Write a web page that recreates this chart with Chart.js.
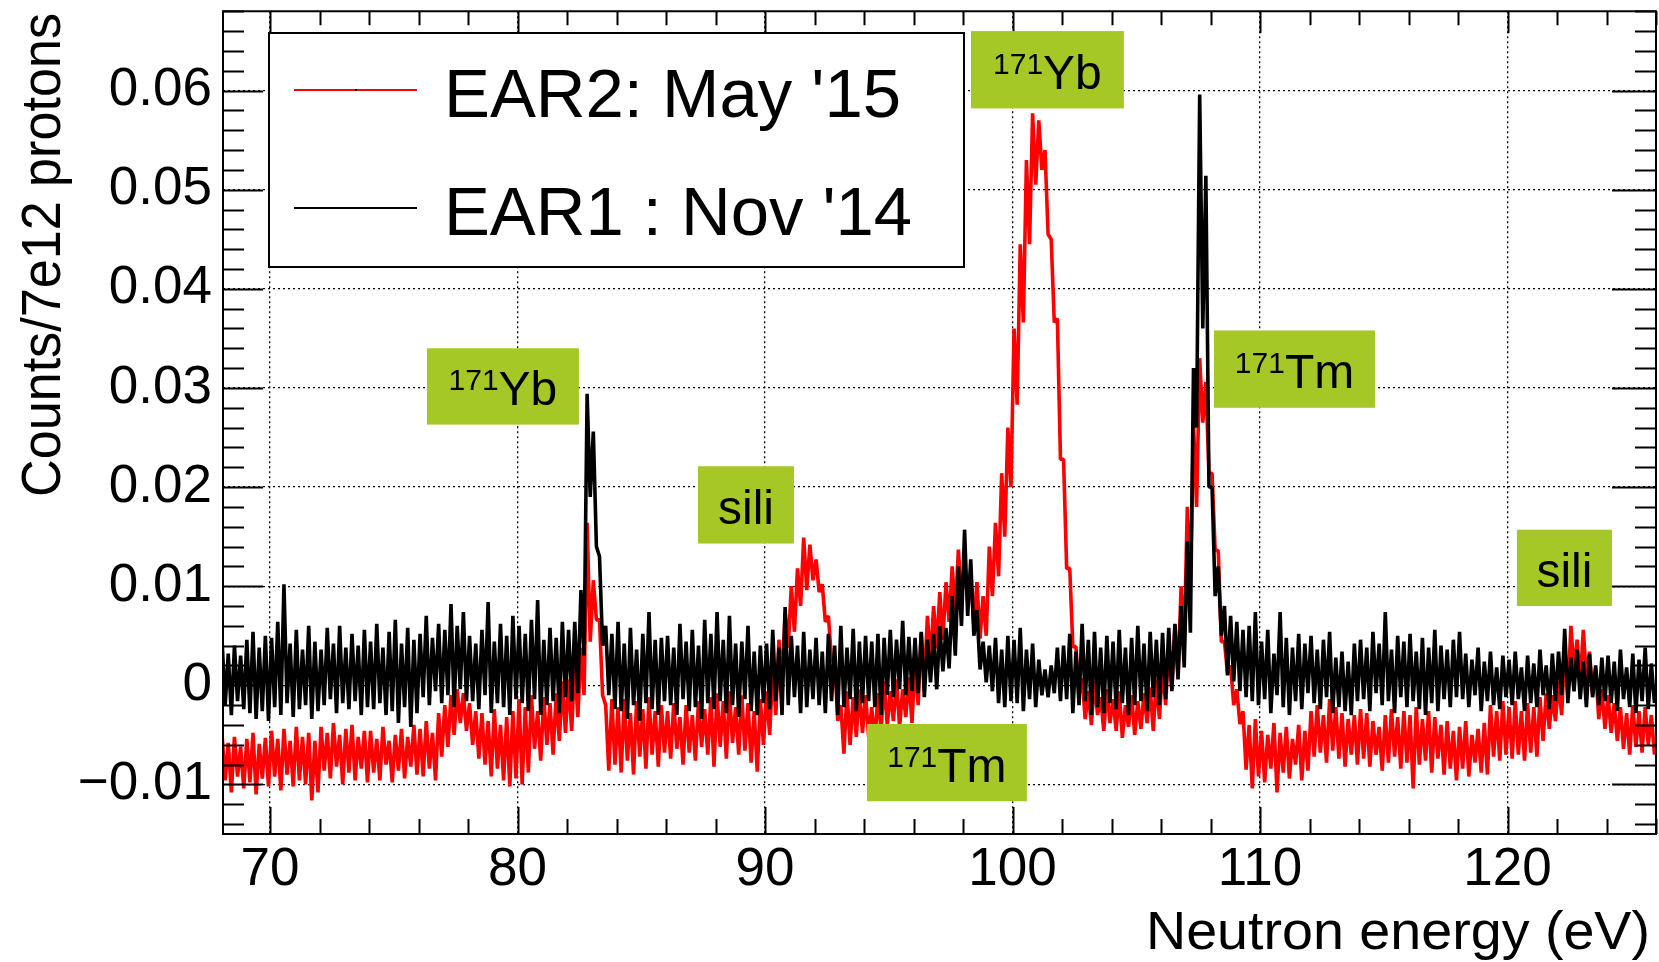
<!DOCTYPE html>
<html>
<head>
<meta charset="utf-8">
<title>EAR1 / EAR2 neutron energy spectrum</title>
<script src="https://cdn.jsdelivr.net/npm/chart.js@4.4.1/dist/chart.umd.min.js"></script>
<style>
  html, body { margin: 0; padding: 0; background: #fff; overflow: hidden; }
  canvas { display: block; }
</style>
</head>
<body>
<canvas id="spectrum" width="1659" height="962"></canvas>
<script>
// spectrum in 0.25 eV bins from 68 eV
// each bin keeps the top and bottom of the noisy trace, in units of 1e-3 counts
const binStart = 68;
const binWidth = 0.25;

// EAR1 : Nov '14 (black)
const ear1Hi = [
  4.5, 3.2, 4.0, 3.0, 4.6, 5.4, 3.8, 5.0,      // 68
  4.8, 6.4, 10.2, 4.2, 5.6, 3.6, 6.0, 4.4,     // 70
  3.6, 5.8, 4.2, 6.0, 3.8, 5.2, 4.0, 5.6,      // 72
  4.4, 6.2, 3.8, 5.4, 6.6, 4.2, 5.8, 4.6,      // 74
  5.2, 7.0, 4.8, 6.2, 5.6, 8.2, 6.0, 7.4,      // 76
  5.0, 4.2, 5.6, 8.4, 4.4, 6.2, 5.0, 7.0,      // 78
  6.0, 5.2, 6.6, 8.6, 4.6, 5.8, 4.8, 6.4,      // 80
  5.6, 6.4, 9.6, 29.4, 25.6, 13.0, 6.0, 5.2,   // 82
  6.4, 4.2, 5.8, 3.6, 5.2, 7.4, 4.6, 4.8,      // 84
  5.0, 3.8, 6.2, 4.4, 5.6, 4.0, 6.6, 5.2,      // 86
  7.4, 4.6, 7.0, 4.2, 4.4, 6.0, 3.4, 4.0,      // 88
  4.2, 5.6, 3.8, 7.9, 5.0, 4.0, 5.4, 3.6,      // 90
  4.8, 3.4, 5.2, 4.0, 6.0, 3.8, 5.7, 4.4,      // 92
  5.0, 4.4, 5.2, 4.8, 5.6, 4.6, 6.5, 4.9,      // 94
  4.8, 5.4, 4.6, 5.2, 6.0, 5.8, 9.0, 12.0,     // 96
  15.7, 12.7, 7.6, 4.4, 4.0, 4.8, 3.6, 5.0,    // 98
  4.6, 5.8, 3.6, 4.2, 2.6, 1.6, 2.0, 3.8,      // 100
  4.0, 5.2, 3.4, 6.2, 4.6, 5.4, 3.8, 5.0,      // 102
  4.4, 5.6, 3.8, 4.8, 6.0, 4.2, 5.4, 4.6,      // 104
  5.3, 5.8, 6.2, 8.0, 14.5, 32.0, 59.6, 51.4,  // 106
  20.0, 12.0, 8.0, 7.0, 6.4, 5.6, 6.0, 7.4,    // 108
  4.4, 5.6, 3.2, 7.4, 4.8, 3.8, 5.2, 4.2,      // 110
  5.0, 3.6, 4.6, 5.4, 2.8, 3.4, 2.4, 4.2,      // 112
  4.6, 3.8, 5.4, 4.2, 7.4, 3.6, 5.0, 4.4,      // 114
  5.2, 3.4, 4.8, 3.8, 5.6, 4.0, 3.6, 4.6,      // 116
  5.4, 3.2, 2.6, 3.8, 2.4, 3.4, 1.8, 3.0,      // 118
  2.6, 3.4, 1.8, 3.0, 2.2, 3.6, 2.0, 3.2,      // 120
  3.4, 5.7, 2.8, 3.6, 2.4, 3.2, 2.0, 2.8,      // 122
  3.0, 2.4, 3.6, 1.8, 3.2, 2.6, 3.8, 2.2       // 124
];
const ear1Lo = [
  -2.0, -3.0, -1.6, -2.4, -2.8, -3.4, -2.6, -3.6,
  -2.2, -3.0, -1.8, -3.2, -2.4, -2.0, -3.4, -2.6,
  -2.0, -1.4, -2.8, -1.8, -2.4, -1.6, -3.0, -2.2,
  -2.4, -1.8, -3.0, -2.6, -3.8, -2.2, -4.2, -2.8,
  -1.2, -2.0, -0.6, -1.8, -1.0, -2.2, -0.4, -1.6,
  -1.6, -2.4, -1.0, -2.8, -1.8, -2.2, -3.0, -1.4,
  -1.8, -2.6, -1.4, -3.0, -2.0, -1.6, -2.8, -1.2,
  -1.6, -0.8, 3.0, 19.0, 14.0, 4.0, -1.0, -2.4,
  -2.6, -3.4, -2.0, -3.6, -1.8, -2.4, -3.0, -1.6,
  -2.0, -3.0, -1.4, -2.6, -2.2, -3.4, -1.8, -2.4,
  -1.6, -2.8, -2.0, -3.2, -1.4, -2.6, -3.0, -1.8,
  -2.4, -1.6, -3.0, -2.0, -1.2, -2.8, -2.2, -1.4,
  -2.0, -2.8, -1.6, -3.0, -2.2, -1.4, -2.6, -1.8,
  -1.6, -2.2, -3.0, -1.0, -1.2, -0.4, -1.0, -0.6,
  -0.8, -1.2, 0.3, -0.4, 1.4, 1.7, 3.0, 6.0,
  7.0, 5.0, 1.6, 0.3, -0.6, -1.8, -2.2, -1.6,
  -1.8, -2.6, -1.4, -2.2, -1.0, -1.2, -0.8, -1.6,
  -1.4, -2.8, -2.0, -1.6, -3.0, -2.2, -2.8, -1.8,
  -2.4, -1.8, -3.0, -2.0, -1.6, -2.6, -1.2, -2.0,
  -1.4, -0.6, 0.6, 1.8, 5.3, 26.0, 36.0, 20.0,
  9.0, 5.0, 1.0, 0.4, -0.6, -1.2, -1.6, -2.0,
  -1.4, -2.8, -1.0, -2.2, -3.0, -1.6, -2.4, -0.8,
  -1.8, -2.4, -1.2, -2.8, -2.2, -2.6, -3.0, -1.6,
  -1.4, -2.6, -0.8, -2.0, -1.6, -2.8, -1.2, -2.2,
  -1.6, -2.4, -3.0, -1.8, -2.6, -1.4, -2.2, -1.2,
  -1.4, -2.2, -1.0, -2.6, -1.6, -2.0, -2.4, -1.2,
  -2.0, -1.4, -2.6, -1.8, -2.2, -1.0, -2.4, -1.6,
  -1.0, -1.8, -0.6, -1.4, -2.2, -1.2, -2.0, -1.6,
  -1.8, -2.6, -1.4, -2.2, -2.8, -1.6, -2.4, -1.8
];

// EAR2: May '15 (red)
const ear2Hi = [
  -5.0, -5.8, -5.2, -6.2, -5.4, -4.8, -5.9, -5.3,   // 68
  -4.6, -5.4, -4.4, -5.6, -4.2, -5.2, -4.8, -5.6,   // 70
  -4.2, -4.8, -3.8, -5.0, -4.4, -4.0, -5.2, -4.6,   // 72
  -4.6, -5.4, -4.2, -5.6, -5.0, -4.4, -5.2, -4.0,   // 74
  -4.4, -3.6, -4.8, -2.8, -2.0, -1.0, -0.4, -0.8,   // 76
  -1.8, -2.6, -2.8, -3.6, -2.4, -4.0, -3.2, -2.6,   // 78
  -1.4, -2.2, -1.0, -2.6, -1.2, -1.8, -0.8, 0.4,    // 80
  0.6, 2.2, 3.8, 16.4, 10.6, 6.6, -2.0, -1.4,       // 82
  -2.2, -1.4, -2.8, -1.6, -2.4, -1.2, -2.6, -2.0,   // 84
  -2.6, -1.8, -3.2, -2.0, -3.0, -1.6, -2.4, -1.2,   // 86
  -0.8, -1.6, -0.6, -2.2, -1.0, -1.8, -2.6, -1.4,   // 88
  -0.6, 1.6, 4.6, 7.4, 10.0, 11.8, 14.9, 14.2,      // 90
  12.7, 10.2, 7.0, 2.8, -2.0, -0.6, -1.2, -0.4,     // 92
  -1.0, -2.2, -0.8, 0.4, -0.6, 0.6, -0.4, 0.8,      // 94
  2.4, 5.3, 7.0, 8.0, 9.4, 10.4, 12.0, 13.7,        // 96
  12.7, 11.0, 10.4, 9.0, 14.0, 16.4, 21.4, 26.0,    // 98
  36.0, 44.5, 53.0, 57.7, 57.0, 54.0, 45.0, 37.0,   // 100
  22.8, 11.8, 3.9, 0.7, -0.6, 0.4, -1.2, -0.4,      // 102
  -1.4, -0.6, -2.0, -1.0, -1.6, -0.8, -0.2, 0.6,    // 104
  2.0, 4.0, 6.0, 10.0, 18.0, 26.5, 33.0, 30.6,      // 106
  21.4, 13.6, 4.4, 2.0, -0.4, -2.6, -4.0, -3.4,     // 108
  -4.6, -5.0, -3.8, -4.8, -4.2, -5.4, -4.0, -4.6,   // 110
  -2.6, -2.0, -3.0, -1.4, -2.2, -2.8, -3.4, -3.0,   // 112
  -2.4, -2.8, -3.6, -4.2, -3.0, -2.4, -3.2, -2.6,   // 114
  -3.0, -2.2, -3.4, -2.6, -3.2, -4.0, -3.6, -4.6,   // 116
  -4.2, -3.6, -5.0, -4.4, -3.8, -2.0, -2.6, -1.6,   // 118
  -2.2, -1.6, -2.6, -1.8, -2.2, -1.2, -0.8, -1.0,   // 120
  0.4, 3.8, 6.0, 4.6, 5.6, 3.4, 1.6, -0.4,          // 122
  -1.0, -1.8, -2.2, -2.8, -2.0, -2.6, -2.2, -3.0    // 124
];
const ear2Lo = [
  -9.6, -10.8, -9.2, -10.4, -9.8, -11.0, -9.4, -10.2,
  -9.2, -10.6, -9.0, -10.2, -9.6, -10.0, -11.6, -10.8,
  -8.6, -9.4, -8.2, -10.0, -8.8, -9.6, -8.4, -9.8,
  -8.8, -9.6, -8.0, -9.8, -8.6, -9.4, -8.2, -9.0,
  -9.2, -8.4, -9.6, -7.2, -6.2, -5.0, -3.8, -4.6,
  -6.0, -7.4, -8.0, -9.2, -8.4, -9.6, -10.2, -9.4,
  -10.0, -8.8, -6.4, -7.6, -6.0, -7.0, -5.6, -4.8,
  -4.6, -3.2, -1.0, 4.4, 6.6, -1.0, -8.6, -8.0,
  -8.8, -7.6, -9.0, -7.2, -8.4, -7.0, -8.2, -6.8,
  -7.4, -6.4, -8.0, -6.8, -7.6, -6.2, -7.0, -8.2,
  -6.2, -7.4, -5.8, -7.0, -6.6, -7.8, -8.7, -6.0,
  -5.0, -3.0, 0.3, 3.8, 5.4, 8.0, 9.6, 10.6,
  9.4, 6.4, 2.4, -3.6, -6.9, -6.0, -5.2, -4.8,
  -5.2, -5.8, -4.6, -4.0, -3.6, -4.2, -3.2, -3.8,
  -2.0, 0.3, 2.4, 3.7, 4.6, 6.4, 7.4, 8.4,
  8.4, 6.0, 4.7, 5.0, 9.0, 11.0, 15.0, 20.0,
  28.3, 36.6, 44.5, 50.5, 52.0, 45.5, 36.6, 22.8,
  11.8, 3.9, -1.0, -3.4, -4.0, -3.0, -4.6, -3.8,
  -4.6, -5.3, -4.2, -5.0, -4.4, -3.8, -4.6, -3.4,
  -2.0, -0.4, 1.0, 4.0, 10.0, 18.0, 26.5, 21.4,
  13.6, 4.4, 1.2, -2.0, -3.9, -8.5, -10.4, -9.2,
  -9.8, -8.4, -10.8, -8.8, -9.4, -8.0, -9.6, -8.6,
  -7.2, -6.8, -7.8, -6.6, -7.4, -8.2, -7.0, -8.0,
  -7.4, -8.2, -7.0, -8.6, -7.8, -7.2, -8.4, -7.8,
  -10.4, -8.0, -7.6, -8.8, -7.4, -9.0, -8.4, -9.6,
  -8.4, -9.2, -7.8, -8.8, -9.0, -7.2, -7.6, -7.0,
  -7.4, -7.0, -7.6, -6.8, -7.2, -5.6, -4.4, -3.6,
  -3.0, -1.0, 1.4, 0.2, 0.8, -1.0, -3.4, -4.4,
  -4.8, -5.6, -6.4, -7.0, -6.2, -6.8, -6.0, -7.0
];

const xTickValues = [70, 80, 90, 100, 110, 120];
const yTickValues = [-0.01, 0, 0.01, 0.02, 0.03, 0.04, 0.05, 0.06];
const ear2Label = "EAR2: May '15";
const ear1Label = "EAR1 : Nov '14";

// green tags, corners given in axis units (eV, counts)
const tags = [
  { sup: '171', text: 'Yb', x0: 76.34, x1: 82.48, y0: 0.0340, y1: 0.0263 },
  { sup: '',    text: 'sili', x0: 87.29, x1: 91.17, y0: 0.0221, y1: 0.0143 },
  { sup: '171', text: 'Yb', x0: 98.32, x1: 104.50, y0: 0.0660, y1: 0.0582 },
  { sup: '171', text: 'Tm', x0: 108.14, x1: 114.65, y0: 0.0358, y1: 0.0280 },
  { sup: '171', text: 'Tm', x0: 94.12, x1: 100.58, y0: -0.0039, y1: -0.0117 },
  { sup: '',    text: 'sili', x0: 120.38, x1: 124.22, y0: 0.0157, y1: 0.0080 }
];

const FONT = "'Liberation Sans', Arial, Helvetica, sans-serif";
const TAG_GREEN = '#a6c827';

// zig-zag through top and bottom of every bin so the trace looks like the dense histogram
function tracePoints(hi, lo) {
  const pts = [];
  for (let i = 0; i < hi.length; i++) {
    const x0 = binStart + i * binWidth;
    pts.push({ x: x0 + binWidth * 0.25, y: hi[i] / 1000 });
    pts.push({ x: x0 + binWidth * 0.75, y: lo[i] / 1000 });
  }
  return pts;
}

function tickLabel(v) {
  if (Math.abs(v) < 1e-9) return '0';
  const s = v.toFixed(2);
  return v < 0 ? '\u2212' + s.slice(1) : s;
}

// draw text squeezed/stretched to a given width
function fitText(ctx, text, x, y, width, size) {
  ctx.font = size + 'px ' + FONT;
  const w = ctx.measureText(text).width;
  ctx.save();
  ctx.translate(x, y);
  ctx.scale(width / w, 1);
  ctx.textAlign = 'left';
  ctx.textBaseline = 'alphabetic';
  ctx.fillText(text, 0, 0);
  ctx.restore();
}

const rootStyle = {
  id: 'rootStyle',
  afterDraw(chart) {
    const ctx = chart.ctx;
    const a = chart.chartArea;
    const xs = chart.scales.x;
    const ys = chart.scales.y;
    ctx.save();

    // inner tick marks on all four sides
    ctx.strokeStyle = '#000';
    ctx.lineWidth = 2;
    ctx.beginPath();
    for (let v = -0.014; v <= 0.0681; v += 0.002) {
      const major = Math.abs(Math.round(v * 100) - v * 100) < 1e-6;
      const py = Math.round(ys.getPixelForValue(v)) + 0.5;
      ctx.moveTo(a.left, py); ctx.lineTo(a.left + (major ? 40 : 21), py);
      ctx.moveTo(a.right, py); ctx.lineTo(a.right - (major ? 44 : 21), py);
    }
    for (let v = 70; v <= 126; v += 2) {
      const major = v % 10 === 0;
      const px = Math.round(xs.getPixelForValue(v)) + 0.5;
      ctx.moveTo(px, a.bottom); ctx.lineTo(px, a.bottom - (major ? 27 : 15));
      ctx.moveTo(px, a.top); ctx.lineTo(px, a.top + (major ? 22 : 14));
    }
    ctx.stroke();

    // frame
    ctx.lineWidth = 2;
    ctx.strokeRect(a.left, a.top, a.right - a.left, a.bottom - a.top);

    // axis titles
    ctx.fillStyle = '#000';
    fitText(ctx, 'Neutron energy (eV)', 1146, 949, 504, 54);
    ctx.save();
    ctx.translate(60, 497);
    ctx.rotate(-Math.PI / 2);
    fitText(ctx, 'Counts/7e12 protons', 0, 0, 484, 55);
    ctx.restore();

    // legend
    ctx.fillStyle = '#fff';
    ctx.fillRect(269, 33, 695, 234);
    ctx.strokeStyle = '#000';
    ctx.lineWidth = 2;
    ctx.strokeRect(269, 33, 695, 234);
    ctx.lineWidth = 2;
    ctx.strokeStyle = '#ff0000';
    ctx.beginPath(); ctx.moveTo(294, 90); ctx.lineTo(417, 90); ctx.stroke();
    ctx.fillStyle = '#000';
    ctx.fillRect(355, 89, 2, 2);
    ctx.strokeStyle = '#000';
    ctx.beginPath(); ctx.moveTo(294, 208); ctx.lineTo(417, 208); ctx.stroke();
    fitText(ctx, ear2Label, 444, 117, 457, 68);
    fitText(ctx, ear1Label, 444, 235, 468, 68);

    // green tags
    tags.forEach(t => {
      const x0 = xs.getPixelForValue(t.x0), x1 = xs.getPixelForValue(t.x1);
      const y0 = ys.getPixelForValue(t.y0), y1 = ys.getPixelForValue(t.y1);
      ctx.fillStyle = TAG_GREEN;
      ctx.fillRect(x0, y0, x1 - x0, y1 - y0);
      ctx.fillStyle = '#000';
      ctx.textAlign = 'left';
      ctx.textBaseline = 'alphabetic';
      ctx.font = '30px ' + FONT;
      const ws = t.sup ? ctx.measureText(t.sup).width : 0;
      ctx.font = '48px ' + FONT;
      const wm = ctx.measureText(t.text).width;
      const start = (x0 + x1) / 2 - (ws + wm) / 2;
      const base = y0 + (y1 - y0) * 0.745;
      if (t.sup) {
        ctx.font = '30px ' + FONT;
        ctx.fillText(t.sup, start, base - 15);
      }
      ctx.font = '48px ' + FONT;
      ctx.fillText(t.text, start + ws, base);
    });

    ctx.restore();
  }
};

new Chart(document.getElementById('spectrum'), {
  type: 'line',
  data: {
    datasets: [
      {
        label: ear1Label,
        data: tracePoints(ear1Hi, ear1Lo),
        borderColor: '#000',
        borderWidth: 3.6,
        borderJoinStyle: 'bevel',
        pointRadius: 0,
        tension: 0,
        order: 0
      },
      {
        label: ear2Label,
        data: tracePoints(ear2Hi, ear2Lo),
        borderColor: '#ff0000',
        borderWidth: 3.6,
        borderJoinStyle: 'bevel',
        pointRadius: 0,
        tension: 0,
        order: 1
      }
    ]
  },
  options: {
    responsive: false,
    devicePixelRatio: 1,
    animation: false,
    layout: { padding: { top: 10, right: 3, left: 0, bottom: 0 } },
    plugins: { legend: { display: false }, tooltip: { enabled: false } },
    scales: {
      x: {
        type: 'linear',
        min: 68.1,
        max: 126,
        afterBuildTicks: s => { s.ticks = xTickValues.map(v => ({ value: v })); },
        afterFit: s => { s.height = 128; },
        ticks: {
          autoSkip: false, maxRotation: 0, padding: 5, color: '#000',
          font: { family: FONT, size: 53 },
          callback: v => String(v)
        },
        grid: { color: '#000', lineWidth: 1.3, drawTicks: false },
        border: { display: false, dash: [2, 3] }
      },
      y: {
        min: -0.015,
        max: 0.068,
        afterBuildTicks: s => { s.ticks = yTickValues.map(v => ({ value: v })); },
        afterFit: s => { s.width = 223; },
        ticks: {
          padding: 11, color: '#000',
          // tiny line height so the top label does not push the plot area down
          font: { family: FONT, size: 53, lineHeight: 0.01 },
          callback: v => tickLabel(v)
        },
        grid: { color: '#000', lineWidth: 1.3, drawTicks: false },
        border: { display: false, dash: [2, 3] }
      }
    }
  },
  plugins: [rootStyle]
});
</script>
</body>
</html>
